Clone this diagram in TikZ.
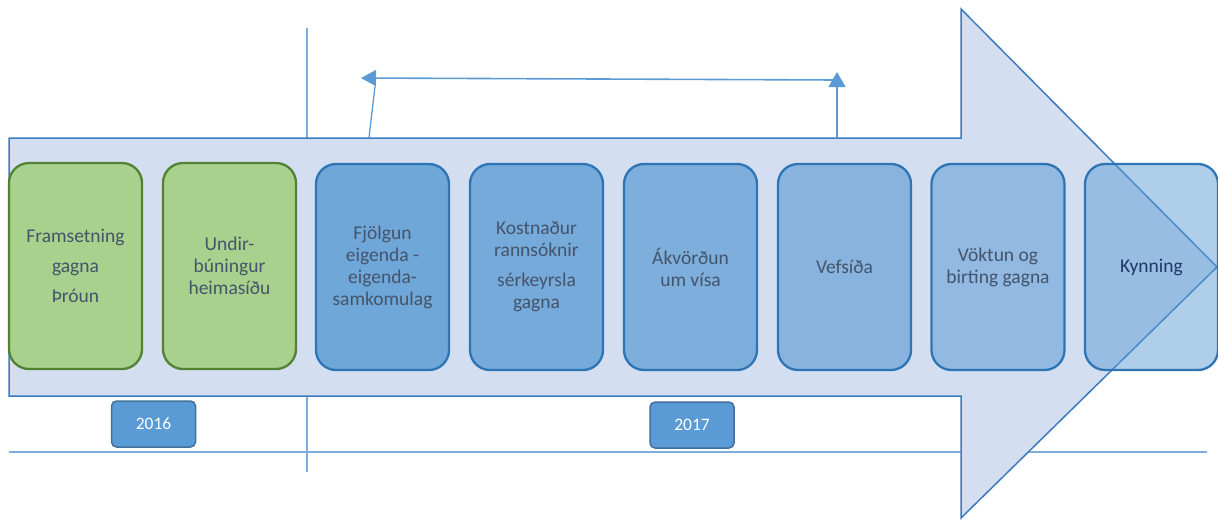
\documentclass[tikz,border=0pt]{standalone}
\usepackage{fontspec}
\setmainfont{Carlito}
\usetikzlibrary{arrows.meta}
\definecolor{arrowfill}{HTML}{D3DEF0}
\definecolor{arrowline}{HTML}{3C7BC0}
\definecolor{gridline}{HTML}{7FAEDC}
\definecolor{greenfill}{HTML}{A9D18E}
\definecolor{greenline}{HTML}{548235}
\definecolor{bluefill}{HTML}{5B9BD5}
\definecolor{blueline}{HTML}{2E75B6}
\definecolor{yearline}{HTML}{41719C}
\definecolor{txt}{HTML}{44546A}
\definecolor{txtdark}{HTML}{203864}
\definecolor{conn}{HTML}{5B9BD5}
\begin{document}
\begin{tikzpicture}[x=1pt,y=-1pt,
  stagebox/.style={rectangle, rounded corners=20pt, minimum width=133pt, minimum height=206pt,
    inner sep=0pt, line width=2.3pt, align=center, text=txt,
    font=\fontsize{19.5}{22}\selectfont},
  greenbox/.style={stagebox, fill=greenfill, draw=greenline},
  bluebox/.style={stagebox, fill=bluefill, draw=blueline},
  yearbox/.style={rectangle, rounded corners=5pt, minimum width=84pt, minimum height=46pt,
    inner sep=0pt, fill=bluefill, draw=yearline, line width=1.5pt, text=white,
    font=\fontsize{17.5}{20}\selectfont},
  connline/.style={draw=conn, line width=1.6pt},
  tip/.style={-{Triangle[length=15pt,width=16pt]}}
]
\useasboundingbox (0,0) rectangle (1218,520);
% grid lines behind the arrow
\coordinate (vtop) at (307,28);
\coordinate (vbot) at (307,472);
\coordinate (hl) at (9,452);
\coordinate (hr) at (1207,452);
\draw[gridline, line width=1.2pt] (vtop) -- (vbot);
\draw[gridline, line width=1.5pt] (hl) -- (hr);
% big arrow
\path[fill=arrowfill, draw=arrowline, line width=1.5pt, line join=miter]
  (9,138) -- (961,138) -- (961,9) -- (1217,267) -- (961,518) -- (961,396) -- (9,396) -- cycle;
% stage boxes
\node[greenbox] (b1) at (75.5,266) {Framsetning\\[8pt]gagna\\[8pt]Þróun};
\node[greenbox] (b2) at (229.5,266) {Undir-\\búningur\\heimasíðu};
\node[bluebox, fill opacity=0.82, text opacity=1, draw opacity=1] (b3) at (382.5,267) {Fjölgun\\eigenda -\\eigenda-\\samkomulag};
\node[bluebox, fill opacity=0.77, text opacity=1, draw opacity=1] (b4) at (536.5,267) {Kostnaður\\rannsóknir\\[8pt]sérkeyrsla\\gagna};
\node[bluebox, fill opacity=0.71, text opacity=1, draw opacity=1] (b5) at (690.5,267) {Ákvörðun\\um vísa};
\node[bluebox, fill opacity=0.63, text opacity=1, draw opacity=1] (b6) at (844.5,267) {Vefsíða};
\node[bluebox, fill opacity=0.55, text opacity=1, draw opacity=1] (b7) at (998,267) {Vöktun og\\birting gagna};
\node[bluebox, fill opacity=0.49, text opacity=1, draw opacity=1, text=txtdark] (b8) at (1151.5,267) {Kynning};
% year boxes
\node[yearbox] (y16) at (153.5,424) {\raisebox{-1pt}{2016}};
\node[yearbox] (y17) at (692,425) {\raisebox{-2pt}{2017}};
% connectors on top
\coordinate (sbot) at (369,138);
\coordinate (stop) at (375,86);
\coordinate (hstart) at (837,80);
\coordinate (hend) at (361,78);
\coordinate (ubot) at (837,138);
\coordinate (utop) at (837,72);
\draw[connline, line width=1.3pt] (sbot) -- (stop);
\draw[connline, tip] (hstart) -- (hend);
\draw[connline, line width=1.3pt, -{Triangle[length=15pt,width=17pt]}] (ubot) -- (utop);
\end{tikzpicture}
\end{document}
